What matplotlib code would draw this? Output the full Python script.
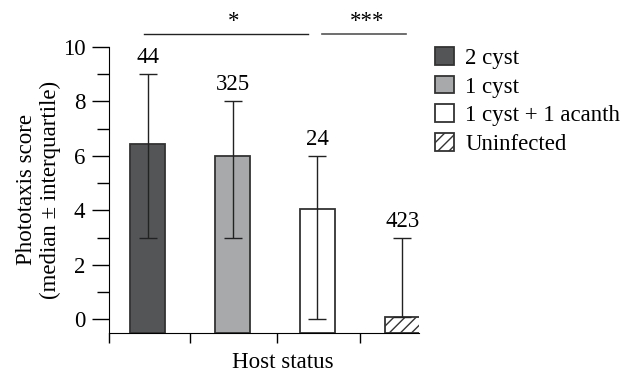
import matplotlib.pyplot as plt
import numpy as np
from matplotlib.ticker import MultipleLocator

plt.rcParams['font.family'] = ['Liberation Serif', 'DejaVu Serif']
plt.rcParams['hatch.linewidth'] = 1.0

groups = ['2 cyst', '1 cyst', '1 cyst + 1 acanth', 'Uninfected']
medians = [6.45, 6.0, 4.05, 0.1]
q_low = [3.0, 3.0, 0.0, 0.1]
q_high = [9.0, 8.0, 6.0, 3.0]
counts = ['44', '325', '24', '423']
colors = ['#545557', '#a8a9ab', 'white', 'white']
hatches = ['', '', '', '///']

FS = 16.5

fig = plt.figure(figsize=(6.22, 3.72), dpi=100)
ax = fig.add_axes([0.175, 0.105, 0.499, 0.769])

x = np.arange(len(groups))
base = -0.5
for i in range(len(groups)):
    ax.bar(x[i], medians[i] - base, bottom=base, width=0.41, color=colors[i],
           edgecolor='#333333', linewidth=1.3, hatch=hatches[i], label=groups[i], zorder=2)
    lo = medians[i] - q_low[i]
    hi = q_high[i] - medians[i]
    ax.errorbar(x[i], medians[i], yerr=[[lo], [hi]], fmt='none', ecolor='#222222',
                elinewidth=1.0, capsize=6.2, capthick=1.0, zorder=3)
    ax.text(x[i], q_high[i] + 0.22, counts[i], ha='center', va='bottom', fontsize=FS)

# significance bars
ax.plot([-0.05, 1.89], [10.48, 10.48], color='#222222', lw=1.0, clip_on=False)
ax.text(1.01, 10.55, '*', ha='center', va='bottom', fontsize=FS)
ax.plot([2.05, 3.04], [10.48, 10.48], color='#555555', lw=1.2, clip_on=False)
ax.text(2.58, 10.55, '***', ha='center', va='bottom', fontsize=FS)

ax.set_xlim(-0.46, 3.2)
ax.set_ylim(-0.5, 10)
ax.spines['top'].set_visible(False)
ax.spines['right'].set_visible(False)
ax.spines['left'].set_bounds(-0.5, 10)
ax.set_xticks([-0.46, 0.5, 1.52, 2.5])
ax.set_xticklabels([])
ax.tick_params(axis='x', direction='out', length=7, width=1)
ax.set_yticks([0, 2, 4, 6, 8, 10])
ax.yaxis.set_minor_locator(MultipleLocator(1))
ax.tick_params(axis='y', which='major', length=12, width=1, labelsize=FS, pad=5)
ax.tick_params(axis='y', which='minor', length=9, width=1)

ax.set_ylabel('Phototaxis score\n(median \u00b1 interquartile)', fontsize=FS, linespacing=1.15)
ax.yaxis.set_label_coords(-0.155, 0.5)
fig.text(0.455, 0.011, 'Host status', ha='center', va='baseline', fontsize=FS)

ax.legend(loc='upper left', bbox_to_anchor=(1.0, 1.055), frameon=False, fontsize=FS,
          handlelength=0.8, handleheight=0.8, handletextpad=0.5, labelspacing=0.3,
          borderaxespad=0.3)

fig.savefig('out.png', dpi=100)
